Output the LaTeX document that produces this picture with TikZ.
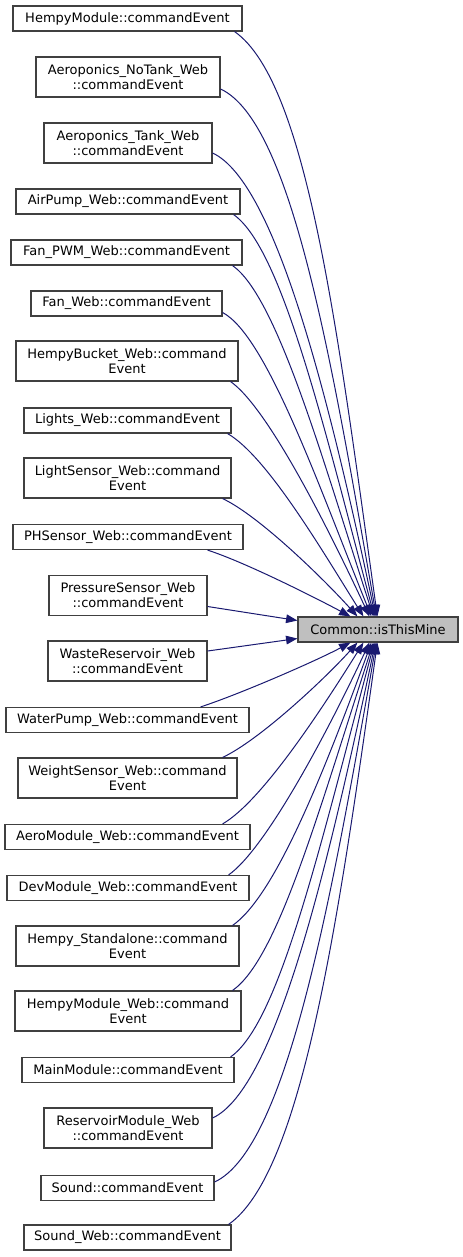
\documentclass[tikz,border=0pt]{standalone}
\usepackage{fontspec}
\setmainfont{DejaVu Sans}
\usetikzlibrary{arrows.meta,calc}
\definecolor{edgecol}{HTML}{191970}
\definecolor{boxcol}{HTML}{404040}
\definecolor{hlfill}{HTML}{BFBFBF}
\begin{document}
\begin{tikzpicture}[x=0.75pt,y=-0.75pt,
  box/.style={draw=boxcol,line width=0.9pt,fill=white,inner sep=0pt,align=center,
    font=\fontsize{9.75pt}{11.25pt}\selectfont},
  bw/.style={minimum width=#1*0.75pt},
  bh/.style={minimum height=#1*0.75pt},
  edge/.style={draw=edgecol,line width=0.75pt,-{Triangle[length=8.5pt,width=6.5pt,fill=edgecol]}}]
\useasboundingbox (0,0) rectangle (463,1257);
% target
\node[box,fill=hlfill,bw=160,bh=25] (cm) at (378,629.5) {Common::isThisMine};
% callers
\node[box,bw=229,bh=25] (n1) at (127.5,18.5) {HempyModule::commandEvent};
\node[box,bw=184,bh=40] (n2) at (128,77) {Aeroponics\_NoTank\_Web\\::commandEvent};
\node[box,bw=168,bh=40] (n3) at (128,143) {Aeroponics\_Tank\_Web\\::commandEvent};
\node[box,bw=224,bh=25] (n4) at (128,201.5) {AirPump\_Web::commandEvent};
\node[box,bw=231,bh=25] (n5) at (126.5,252.5) {Fan\_PWM\_Web::commandEvent};
\node[box,bw=191,bh=25] (n6) at (126.5,303.5) {Fan\_Web::commandEvent};
\node[box,bw=222,bh=40] (n7) at (127,361) {HempyBucket\_Web::command\\Event};
\node[box,bw=207,bh=25] (n8) at (127.5,420.5) {Lights\_Web::commandEvent};
\node[box,bw=207,bh=40] (n9) at (127.5,478) {LightSensor\_Web::command\\Event};
\node[box,bw=230,bh=25] (n10) at (128,537) {PHSensor\_Web::commandEvent};
\node[box,bw=158,bh=40] (n11) at (128,595.5) {PressureSensor\_Web\\::commandEvent};
\node[box,bw=159,bh=40] (n12) at (127.5,661) {WasteReservoir\_Web\\::commandEvent};
\node[box,bw=243,bh=25] (n13) at (127.5,720) {WaterPump\_Web::commandEvent};
\node[box,bw=219,bh=40] (n14) at (127.5,778) {WeightSensor\_Web::command\\Event};
\node[box,bw=245,bh=25] (n15) at (127.5,837) {AeroModule\_Web::commandEvent};
\node[box,bw=242,bh=25] (n16) at (128,888) {DevModule\_Web::commandEvent};
\node[box,bw=223,bh=40] (n17) at (127.5,946) {Hempy\_Standalone::command\\Event};
\node[box,bw=226,bh=40] (n18) at (128,1011) {HempyModule\_Web::command\\Event};
\node[box,bw=212,bh=25] (n19) at (128,1070) {MainModule::commandEvent};
\node[box,bw=168,bh=40] (n20) at (128,1128) {ReservoirModule\_Web\\::commandEvent};
\node[box,bw=173,bh=25] (n21) at (127.5,1188) {Sound::commandEvent};
\node[box,bw=207,bh=25] (n22) at (127.5,1237.5) {Sound\_Web::commandEvent};
% upper edges (y axis points down: positive angles go downward)
\draw[edge] ($(n1.south east)+(-8,0)$) .. controls +(35:90) and +(-98:280) .. ($(cm.north west)+(80,0)$);
\draw[edge] ($(n2.east)+(0,12)$) .. controls +(25:80) and +(-100:250) .. ($(cm.north west)+(79,0)$);
\draw[edge] ($(n3.east)+(0,10)$) .. controls +(25:70) and +(-102:220) .. ($(cm.north west)+(78,0)$);
\draw[edge] ($(n4.south east)+(-7,0)$) .. controls +(35:60) and +(-105:190) .. ($(cm.north west)+(77,0)$);
\draw[edge] ($(n5.south east)+(-10,0)$) .. controls +(35:55) and +(-108:160) .. ($(cm.north west)+(76,0)$);
\draw[edge] ($(n6.east)+(0,9)$) .. controls +(28:50) and +(-112:140) .. ($(cm.north west)+(74,0)$);
\draw[edge] ($(n7.south east)+(-8,0)$) .. controls +(35:45) and +(-115:100) .. ($(cm.north west)+(72,0)$);
\draw[edge] ($(n8.south east)+(-4,0)$) .. controls +(30:45) and +(-122:80) .. ($(cm.north west)+(66,0)$);
\draw[edge] ($(n9.south east)+(-9,0)$) .. controls +(25:40) and +(-132:50) .. ($(cm.north west)+(60,0)$);
\draw[edge] ($(n10.south east)+(-36,0)$) .. controls +(18:40) and +(-152:40) .. ($(cm.north west)+(53,0)$);
\draw[edge] ($(n11.east)+(0,11)$) -- ($(cm.west)+(0,-9)$);
\draw[edge] ($(n12.east)+(0,-10)$) -- ($(cm.west)+(0,9)$);
% lower edges
\draw[edge] ($(n13.north east)+(-49,0)$) .. controls +(-18:40) and +(152:40) .. ($(cm.south west)+(53,0)$);
\draw[edge] ($(n14.north east)+(-15,0)$) .. controls +(-25:40) and +(132:50) .. ($(cm.south west)+(60,0)$);
\draw[edge] ($(n15.north east)+(-28,0)$) .. controls +(-30:45) and +(122:80) .. ($(cm.south west)+(66,0)$);
\draw[edge] ($(n16.north east)+(-21,0)$) .. controls +(-35:45) and +(115:100) .. ($(cm.south west)+(72,0)$);
\draw[edge] ($(n17.north east)+(-7,0)$) .. controls +(-35:50) and +(110:150) .. ($(cm.south west)+(74,0)$);
\draw[edge] ($(n18.north east)+(-9,0)$) .. controls +(-35:55) and +(108:180) .. ($(cm.south west)+(76,0)$);
\draw[edge] ($(n19.north east)+(-4,0)$) .. controls +(-35:60) and +(105:210) .. ($(cm.south west)+(77,0)$);
\draw[edge] ($(n20.east)+(0,-10)$) .. controls +(-25:70) and +(102:230) .. ($(cm.south west)+(78,0)$);
\draw[edge] ($(n21.east)+(0,-6)$) .. controls +(-25:80) and +(100:260) .. ($(cm.south west)+(79,0)$);
\draw[edge] ($(n22.north east)+(-3,0)$) .. controls +(-35:90) and +(98:280) .. ($(cm.south west)+(80,0)$);
\end{tikzpicture}
\end{document}
